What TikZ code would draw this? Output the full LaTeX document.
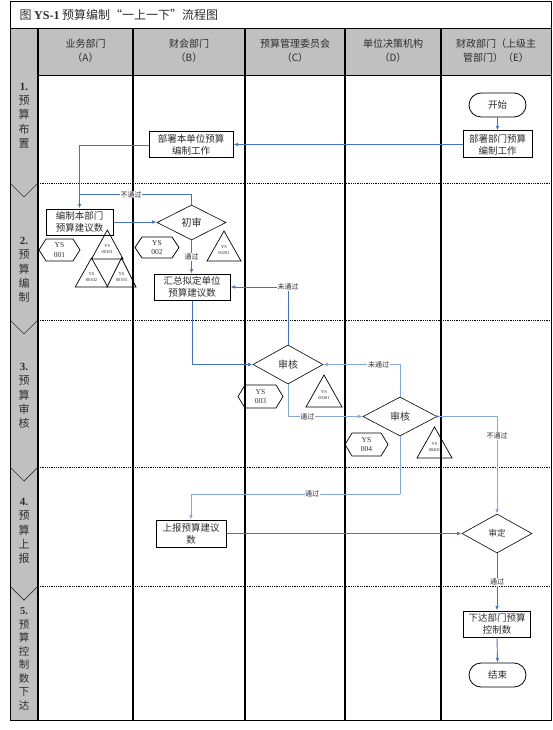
\documentclass[tikz,border=0pt]{standalone}
\usepackage{fontspec}
\setmainfont{Liberation Serif}
\newfontfamily\cjk{Noto Sans CJK SC}
\usetikzlibrary{arrows.meta,shapes.geometric,calc}
\definecolor{hdrgray}{RGB}{192,192,192}
\definecolor{lnblue}{RGB}{68,114,196}
\definecolor{lnblue2}{RGB}{130,168,220}
\definecolor{txtc}{RGB}{45,45,45}
\tikzset{
  pbox/.style={draw, line width=1pt, rectangle, inner sep=1pt, align=center,
    font=\cjk\fontsize{9.5}{12}\selectfont, text=txtc, fill=white},
  dia/.style={draw, line width=0.6pt, diamond, inner sep=0pt,
    font=\cjk\fontsize{10}{12}\selectfont, text=txtc, fill=white},
  term/.style={draw, line width=0.8pt, rounded corners=12pt, minimum width=57,
    minimum height=24, font=\cjk\fontsize{9.5}{12}\selectfont, text=txtc, fill=white},
  conn/.style={draw=lnblue, line width=0.9pt, -{Latex[length=4.5pt,width=3.5pt]}},
  conn2/.style={conn, draw=lnblue2},
  plain/.style={draw=lnblue, line width=0.9pt},
  lbl/.style={fill=white, inner sep=0.6pt, font=\cjk\fontsize{7}{8}\selectfont, text=txtc},
  hdr/.style={align=center, font=\cjk\fontsize{10}{14}\selectfont, text=txtc},
  phase/.style={align=center, font=\cjk\fontsize{11}{14.3}\selectfont, text=txtc},
  hexlbl/.style={align=center, font=\fontsize{7.5}{9.5}\selectfont, inner sep=0, text=txtc},
  trilbl/.style={align=center, font=\fontsize{4.5}{6}\selectfont, inner sep=0, text=txtc},
  lane/.style={line width=1.4pt, black},
  sep/.style={line width=0.8pt, dash pattern=on 0.9pt off 0.9pt, black},
}
\newcommand\yshex[6]{%
  \draw[line width=0.7pt] (#2-#4/2,#3) -- (#2-#4/2+7,#3-#5/2) -- (#2+#4/2-7,#3-#5/2)
    -- (#2+#4/2,#3) -- (#2+#4/2-7,#3+#5/2) -- (#2-#4/2+7,#3+#5/2) -- cycle;
  \node[hexlbl] (#1) at (#2,#3) {YS\\#6};
}
\newcommand\ystri[6]{%
  \draw[line width=0.7pt] (#2,#3) -- (#2-#5,#4) -- (#2+#5,#4) -- cycle;
  \node[trilbl] (#1) at (#2,{#3+0.64*(#4-#3)}) {YS\\#6};
}
\begin{document}
\begin{tikzpicture}[x=1pt,y=-1pt]
\useasboundingbox (0,0) rectangle (553,730);
% backgrounds
\fill[white] (0,0) rectangle (553,730);
\fill[hdrgray] (10,29) rectangle (551,75);
\fill[hdrgray] (10,29) rectangle (38,720);
% title
\node[anchor=west, font=\cjk\fontsize{12}{14}\selectfont, text=txtc] (title) at (16,15)
  {图 {\rmfamily\bfseries YS-1} 预算编制“一上一下”流程图};
% header texts
\node[hdr] (hA) at (85.5,51) {业务部门\\（A）};
\node[hdr] (hB) at (189,51) {财会部门\\（B）};
\node[hdr] (hC) at (295,51) {预算管理委员会\\（C）};
\node[hdr] (hD) at (393,51) {单位决策机构\\（D）};
\node[hdr] (hE) at (496,51) {财政部门（上级主\\管部门）（E）};
% phase separators
\foreach \yb in {183,320,467,586}{
  \draw[sep] (38,\yb) -- (551,\yb);
  \draw[line width=0.7pt, black!80] (10,\yb) -- (24,\yb+14) -- (38,\yb);
}
% frame and lanes
\draw[line width=0.7pt] (38,75) -- (551,75);
\foreach \xl in {38,133,245,345,441}{ \draw[lane] (\xl,29) -- (\xl,720); }
\draw[line width=1pt] (10,29) -- (551,29);
\draw[line width=1pt] (10,2) rectangle (551,720);
% phase labels
\node[phase] (p1) at (24,115.5) {{\rmfamily\bfseries 1.}\\预\\算\\布\\置};
\node[phase] (p2) at (24,270) {{\rmfamily\bfseries 2.}\\预\\算\\编\\制};
\node[phase] (p3) at (24,396) {{\rmfamily\bfseries 3.}\\预\\算\\审\\核};
\node[phase] (p4) at (24,531) {{\rmfamily\bfseries 4.}\\预\\算\\上\\报};
\node[phase, font=\cjk\fontsize{10.5}{13.5}\selectfont] (p5) at (24,659) {{\rmfamily\bfseries 5.}\\预\\算\\控\\制\\数\\下\\达};
% nodes
\node[term] (start) at (497.5,105) {开始};
\node[pbox, minimum width=69, minimum height=27] (e1) at (497.5,144.5) {部署部门预算\\编制工作};
\node[pbox, minimum width=84, minimum height=26] (b1) at (191,145) {部署本单位预算\\编制工作};
\node[pbox, minimum width=67, minimum height=26] (a1) at (79.5,222) {编制本部门\\预算建议数};
\node[dia, minimum width=69, minimum height=35] (cs) at (191.5,222.5) {初审};
\node[pbox, minimum width=76, minimum height=26] (b2) at (192,287) {汇总拟定单位\\预算建议数};
\node[dia, minimum width=70, minimum height=39] (c1) at (288,364.5) {审核};
\node[dia, minimum width=74, minimum height=39] (d1) at (400,416.5) {审核};
\node[pbox, minimum width=70, minimum height=27] (sh) at (191,533.5) {上报预算建议\\数};
\node[dia, minimum width=70, minimum height=39, font=\cjk\fontsize{8.5}{10}\selectfont] (sd) at (497,533.5) {审定};
\node[pbox, minimum width=67, minimum height=26] (xd) at (497,624) {下达部门预算\\控制数};
\node[term] (end) at (497.5,675) {结束};
% YS markers
\yshex{h1}{59.5}{250}{41}{22}{001}
\yshex{h2}{157}{247.5}{44}{21}{002}
\yshex{h3}{260.5}{396.5}{45}{23}{003}
\yshex{h4}{366.5}{444.5}{43}{23}{004}
\ystri{t1}{107.3}{230}{259}{15.8}{00101}
\ystri{t2}{91.5}{258}{287}{16.3}{00102}
\ystri{t3}{121.5}{258}{287}{14.5}{00103}
\ystri{t4}{224}{231}{261}{17}{00201}
\ystri{t5}{324}{375}{407}{18}{00301}
\ystri{t6}{434.5}{427}{458}{17.5}{00401}
% connectors
\coordinate (j1) at ($(a1.north)+(0,-14)$);
\coordinate (k1) at (400,494);
\draw[conn] (start.south) -- (e1.north);
\draw[conn] (e1.west) -- (e1.west -| b1.east);
\draw[conn] (b1.west) -| (a1.north);
\draw[plain] (cs.north) |- node[lbl, pos=0.77] {不通过} (j1);
\draw[conn] (a1.east) -- (a1.east -| cs.west);
\draw[conn] (cs.south) -- node[lbl, pos=0.5] {通过} (cs.south |- b2.north);
\draw[conn] (c1.north) |- node[lbl, pos=0.5] {未通过} (b2.east);
\draw[conn] (b2.south) |- (c1.west);
\draw[conn2] (c1.south) |- node[lbl, pos=0.63] {通过} (d1.west);
\draw[conn2] (d1.north) |- node[lbl, pos=0.64] {未通过} (c1.east);
\draw[conn2] (d1.east) -| node[lbl, pos=0.6] {不通过} (sd.north);
\fill[lnblue] (d1.east) circle (1.3);
\draw[plain, draw=lnblue2] (d1.south) -- (k1);
\draw[conn2] (k1) -| node[lbl, pos=0.21] {通过} (sh.north);
\draw[conn] (sh.east) -- (sh.east -| sd.west);
\draw[conn] (sd.south) -- node[lbl, pos=0.5] {通过} (sd.south |- xd.north);
\draw[conn] (xd.south) -- (end.north);
\end{tikzpicture}
\end{document}
